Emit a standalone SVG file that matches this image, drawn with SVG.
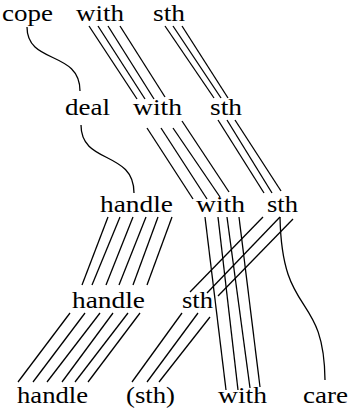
<svg xmlns="http://www.w3.org/2000/svg" width="348" height="409" viewBox="0 0 348 409">
<style>
.t{font-family:'Liberation Serif','DejaVu Serif','Times New Roman',serif;font-size:23.5px;fill:#000}
line,path{stroke:#000;stroke-width:1.3;fill:none}
</style>
<rect width="348" height="409" fill="#fff"/>
<g id="connectors">
<path d="M27,27 C27,65 80,50 80,91"/>
<path d="M81,125 C81,165 134,150 134,193"/>
<path d="M280,217 C282,320 324,290 325,380"/>
<g id="A">
<line x1="89" y1="26" x2="137" y2="99"/>
<line x1="98" y1="26" x2="145" y2="99"/>
<line x1="108" y1="26" x2="154" y2="99"/>
<line x1="120" y1="26" x2="165" y2="97"/>
</g>
<g id="B">
<line x1="165" y1="26" x2="214" y2="98"/>
<line x1="173" y1="26" x2="221" y2="98"/>
<line x1="182" y1="26" x2="228" y2="98"/>
</g>
<g id="C">
<line x1="147" y1="128" x2="193" y2="199"/>
<line x1="161" y1="128" x2="207" y2="199"/>
<line x1="173" y1="128" x2="220" y2="197"/>
<line x1="182" y1="121" x2="229" y2="192"/>
</g>
<g id="D">
<line x1="218" y1="120" x2="264" y2="193"/>
<line x1="227" y1="120" x2="272" y2="193"/>
<line x1="235" y1="120" x2="281" y2="191"/>
</g>
<g id="E">
<line x1="108" y1="217" x2="82" y2="285"/>
<line x1="120" y1="217" x2="92" y2="285"/>
<line x1="133" y1="217" x2="106" y2="285"/>
<line x1="146" y1="217" x2="119" y2="285"/>
<line x1="158" y1="217" x2="133" y2="285"/>
<line x1="172" y1="217" x2="147" y2="285"/>
</g>
<g id="F">
<line x1="70" y1="313" x2="18" y2="382"/>
<line x1="85" y1="313" x2="33" y2="382"/>
<line x1="100" y1="313" x2="47" y2="382"/>
<line x1="113" y1="313" x2="62" y2="382"/>
<line x1="128" y1="313" x2="75" y2="382"/>
<line x1="140" y1="313" x2="88" y2="382"/>
</g>
<g id="G">
<line x1="182" y1="313" x2="132" y2="382"/>
<line x1="198" y1="313" x2="147" y2="382"/>
<line x1="210" y1="317" x2="159" y2="382"/>
</g>
<g id="H">
<line x1="205" y1="217" x2="226" y2="390"/>
<line x1="218" y1="217" x2="238" y2="390"/>
<line x1="227" y1="217" x2="250" y2="388"/>
<line x1="239" y1="217" x2="260" y2="387"/>
</g>
<g id="I">
<line x1="263" y1="217" x2="190" y2="292"/>
<line x1="280" y1="217" x2="207" y2="293"/>
<line x1="293" y1="219" x2="218" y2="296"/>
</g>
</g>
<g id="cope"><text class="t" x="2" y="21" textLength="51" lengthAdjust="spacingAndGlyphs">cope</text></g>
<g id="with1"><text class="t" x="76" y="21" textLength="48" lengthAdjust="spacingAndGlyphs">with</text></g>
<g id="sth1"><text class="t" x="153" y="21" textLength="32" lengthAdjust="spacingAndGlyphs">sth</text></g>
<g id="deal"><text class="t" x="65" y="115" textLength="45" lengthAdjust="spacingAndGlyphs">deal</text></g>
<g id="with2"><text class="t" x="133" y="115" textLength="49" lengthAdjust="spacingAndGlyphs">with</text></g>
<g id="sth2"><text class="t" x="210" y="115" textLength="32" lengthAdjust="spacingAndGlyphs">sth</text></g>
<g id="handle3"><text class="t" x="100" y="212" textLength="73" lengthAdjust="spacingAndGlyphs">handle</text></g>
<g id="with3"><text class="t" x="196" y="212" textLength="49" lengthAdjust="spacingAndGlyphs">with</text></g>
<g id="sth3"><text class="t" x="267" y="212" textLength="31" lengthAdjust="spacingAndGlyphs">sth</text></g>
<g id="handle4"><text class="t" x="72" y="308" textLength="73" lengthAdjust="spacingAndGlyphs">handle</text></g>
<g id="sth4"><text class="t" x="182" y="308" textLength="31" lengthAdjust="spacingAndGlyphs">sth</text></g>
<g id="handle5"><text class="t" x="17" y="403" textLength="71" lengthAdjust="spacingAndGlyphs">handle</text></g>
<g id="sth5"><text class="t" x="126" y="403" textLength="49" lengthAdjust="spacingAndGlyphs">(sth)</text></g>
<g id="with5"><text class="t" x="218" y="403" textLength="49" lengthAdjust="spacingAndGlyphs">with</text></g>
<g id="care"><text class="t" x="303" y="403" textLength="45" lengthAdjust="spacingAndGlyphs">care</text></g>
</svg>
